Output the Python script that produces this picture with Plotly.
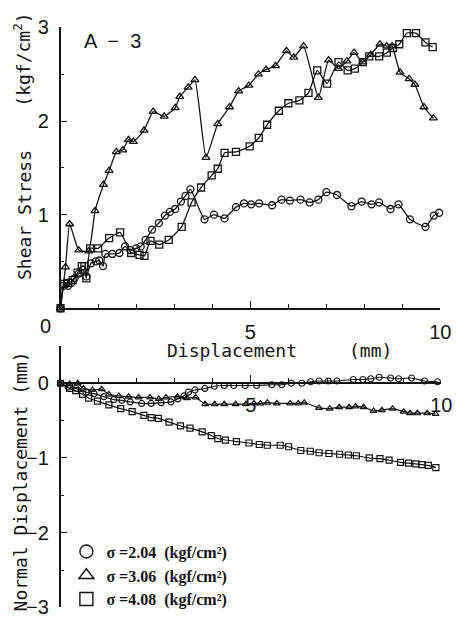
import plotly.graph_objects as go

W, H = 463, 630

# ---------------- data ----------------
# Shear stress (kgf/cm2) vs displacement (mm)
shear_c_x = [0, 0.07, 0.2, 0.28, 0.37, 0.48, 0.58, 0.68, 0.8, 0.93, 1.02, 1.12, 1.18, 1.36, 1.55, 1.70,
             1.84, 1.99, 2.11, 2.24, 2.41, 2.59, 2.75, 2.88, 3.02, 3.17, 3.29, 3.42, 3.79, 4.04, 4.32,
             4.62, 4.83, 5.02, 5.23, 5.57, 5.82, 6.04, 6.32, 6.56, 6.79, 7.0, 7.28, 7.66, 7.93, 8.19,
             8.39, 8.69, 8.90, 9.20, 9.61, 9.83, 9.97]
shear_c_y = [0, 0.24, 0.24, 0.27, 0.32, 0.37, 0.41, 0.34, 0.48, 0.50, 0.51, 0.45, 0.58, 0.58, 0.59, 0.66,
             0.62, 0.64, 0.66, 0.73, 0.84, 0.91, 0.99, 1.03, 1.06, 1.14, 1.20, 1.27, 0.95, 1.00, 0.96,
             1.08, 1.12, 1.11, 1.12, 1.10, 1.16, 1.15, 1.16, 1.13, 1.16, 1.24, 1.21, 1.09, 1.14, 1.11,
             1.13, 1.06, 1.11, 0.95, 0.87, 0.99, 1.02]

shear_t_x = [0, 0.13, 0.24, 0.48, 0.74, 0.91, 1.13, 1.28, 1.47, 1.64, 1.79, 1.92, 2.20, 2.44, 2.73,
             3.02, 3.14, 3.36, 3.54, 3.83, 4.14, 4.45, 4.69, 4.96, 5.21, 5.41, 5.66, 5.95, 6.14, 6.40,
             6.79, 7.06, 7.32, 7.54, 7.73, 7.96, 8.17, 8.41, 8.59, 8.73, 8.94, 9.18, 9.33, 9.57, 9.82]
shear_t_y = [0, 0.44, 0.90, 0.62, 0.61, 1.04, 1.32, 1.47, 1.67, 1.69, 1.80, 1.78, 1.90, 2.10, 2.05,
             2.14, 2.26, 2.36, 2.44, 1.61, 1.97, 2.15, 2.32, 2.38, 2.50, 2.55, 2.59, 2.75, 2.68, 2.80,
             2.25, 2.65, 2.56, 2.64, 2.73, 2.63, 2.71, 2.82, 2.80, 2.80, 2.52, 2.45, 2.39, 2.15, 2.03]

shear_s_x = [0, 0.1, 0.2, 0.32, 0.45, 0.56, 0.63, 0.68, 0.78, 0.99, 1.28, 1.57, 1.86, 2.08, 2.21, 2.37,
             2.60, 2.85, 3.19, 3.45, 3.70, 3.98, 4.14, 4.32, 4.62, 4.98, 5.22, 5.44, 5.75, 6.0, 6.29,
             6.53, 6.76, 7.02, 7.32, 7.56, 7.75, 7.96, 8.13, 8.39, 8.59, 8.75, 8.92, 9.12, 9.36, 9.61, 9.80]
shear_s_y = [0, 0.26, 0.27, 0.30, 0.38, 0.45, 0.45, 0.32, 0.64, 0.64, 0.75, 0.81, 0.59, 0.57, 0.56, 0.72,
             0.68, 0.73, 0.87, 1.13, 1.29, 1.42, 1.49, 1.66, 1.67, 1.73, 1.82, 1.96, 2.11, 2.19, 2.22,
             2.30, 2.54, 2.40, 2.63, 2.54, 2.56, 2.63, 2.69, 2.69, 2.73, 2.78, 2.82, 2.94, 2.94, 2.84, 2.79]

# Normal displacement (mm) vs displacement (mm)
norm_c_x = [0, 0.2, 0.41, 0.67, 0.88, 1.14, 1.40, 1.61, 1.83, 2.13, 2.38, 2.64, 2.90, 3.08, 3.24, 3.36,
            3.53, 3.79, 4.04, 4.30, 4.55, 4.85, 5.15, 5.55, 5.81, 6.06, 6.34, 6.57, 6.79, 7.03, 7.26,
            7.69, 7.94, 8.15, 8.37, 8.67, 8.88, 9.22, 9.56, 9.90]
norm_c_y = [0, -0.05, -0.07, -0.12, -0.14, -0.18, -0.22, -0.23, -0.25, -0.27, -0.27, -0.26, -0.25, -0.21,
            -0.17, -0.12, -0.09, -0.07, -0.04, -0.03, -0.03, -0.03, -0.03, -0.02, -0.02, 0.0, 0.0, 0.02,
            0.03, 0.03, 0.03, 0.05, 0.05, 0.06, 0.08, 0.07, 0.06, 0.07, 0.03, 0.02]

norm_t_x = [0, 0.24, 0.45, 0.6, 0.84, 1.08, 1.27, 1.53, 1.79, 2.05, 2.35, 2.58, 2.77, 3.07, 3.32, 3.55,
            3.80, 4.05, 4.30, 4.60, 4.87, 5.08, 5.25, 5.43, 5.68, 6.03, 6.24, 6.40, 6.79, 7.07, 7.32,
            7.58, 7.75, 7.96, 8.22, 8.44, 8.72, 9.01, 9.18, 9.37, 9.63, 9.85]
norm_t_y = [0, -0.01, 0.0, -0.07, -0.09, -0.08, -0.15, -0.17, -0.18, -0.19, -0.19, -0.21, -0.19, -0.18,
            -0.20, -0.19, -0.28, -0.28, -0.28, -0.28, -0.28, -0.27, -0.27, -0.26, -0.27, -0.27, -0.27,
            -0.26, -0.33, -0.34, -0.32, -0.32, -0.31, -0.32, -0.37, -0.36, -0.34, -0.38, -0.40, -0.40,
            -0.40, -0.41]

norm_s_x = [0, 0.24, 0.40, 0.58, 0.74, 0.97, 1.27, 1.58, 1.88, 2.19, 2.38, 2.57, 2.85, 3.15, 3.40, 3.72,
            3.96, 4.13, 4.33, 4.62, 4.95, 5.22, 5.43, 5.77, 5.99, 6.31, 6.56, 6.79, 7.05, 7.33, 7.56,
            7.77, 8.11, 8.39, 8.63, 8.93, 9.14, 9.33, 9.49, 9.66, 9.86]
norm_s_y = [0, -0.07, -0.10, -0.15, -0.20, -0.24, -0.29, -0.34, -0.38, -0.43, -0.46, -0.47, -0.52, -0.57,
            -0.60, -0.65, -0.70, -0.74, -0.76, -0.78, -0.80, -0.82, -0.83, -0.83, -0.85, -0.90, -0.91,
            -0.93, -0.94, -0.95, -0.96, -0.97, -1.00, -1.01, -1.03, -1.06, -1.07, -1.08, -1.09, -1.10,
            -1.13]

series_names = ["σ =2.04  (kgf/cm²)", "σ =3.06  (kgf/cm²)", "σ =4.08  (kgf/cm²)"]
symbols = ["circle-open", "triangle-up-open", "square-open"]

INK = "#141414"

fig = go.Figure()

shear = [(shear_c_x, shear_c_y), (shear_t_x, shear_t_y), (shear_s_x, shear_s_y)]
normal = [(norm_c_x, norm_c_y), (norm_t_x, norm_t_y), (norm_s_x, norm_s_y)]

for (xs, ys), sym in zip(shear, symbols):
    fig.add_trace(go.Scatter(x=xs, y=ys, mode="lines+markers", xaxis="x", yaxis="y",
                             line=dict(color=INK, width=1.3, shape="spline", smoothing=0.4),
                             marker=dict(symbol=sym, size=7, color=INK, line=dict(width=1.3, color=INK)),
                             showlegend=False, cliponaxis=False))
for (xs, ys), sym in zip(normal, symbols):
    fig.add_trace(go.Scatter(x=xs, y=ys, mode="lines+markers", xaxis="x2", yaxis="y2",
                             line=dict(color=INK, width=1.2, shape="spline", smoothing=0.4),
                             marker=dict(symbol=sym, size=6, color=INK, line=dict(width=1.2, color=INK)),
                             showlegend=False, cliponaxis=False))
# legend entries
for name, sym in zip(series_names, symbols):
    fig.add_trace(go.Scatter(x=[None], y=[None], mode="markers", name=name, xaxis="x2", yaxis="y2",
                             marker=dict(symbol=sym, size=13, color=INK, line=dict(width=1.4, color=INK))))

def px(x):
    return x / W

def py(y):
    return 1 - y / H

tickfont = dict(family="Liberation Sans, Arial, sans-serif", size=20, color=INK)
labfont = dict(family="DejaVu Sans Mono, monospace", size=18, color=INK)

top_y_dom = [py(308), py(17)]
bot_y_dom = [py(618), py(347)]
bot_range = [-3, 0.5]
zero_pos = bot_y_dom[0] + (0 - bot_range[0]) / (bot_range[1] - bot_range[0]) * (bot_y_dom[1] - bot_y_dom[0])

common_axis = dict(showgrid=False, zeroline=False, showline=True, linecolor=INK, linewidth=1.5,
                   ticks="inside", tickcolor=INK, tickwidth=1.3, tickfont=tickfont)

fig.update_layout(
    width=W, height=H, margin=dict(l=0, r=0, t=0, b=0),
    paper_bgcolor="white", plot_bgcolor="white",
    xaxis=dict(domain=[px(62), px(451)], range=[0, 10], anchor="y",
               tickvals=[5, 10], ticklen=7, ticklabelstandoff=5,
               minor=dict(dtick=1, tick0=0, ticks="inside", ticklen=4, tickcolor=INK), **common_axis),
    yaxis=dict(domain=top_y_dom, range=[0, 3], anchor="x",
               tickvals=[1, 2, 3], ticklen=7, ticklabelstandoff=6,
               minor=dict(dtick=0.5, tick0=0, ticks="inside", ticklen=4, tickcolor=INK), **common_axis),
    xaxis2=dict(domain=[px(62), px(452)], range=[0, 10], anchor="free", position=zero_pos,
                tickvals=[5, 10], ticklen=7, ticklabelstandoff=4,
                minor=dict(dtick=1, tick0=0, ticks="inside", ticklen=4, tickcolor=INK), **common_axis),
    yaxis2=dict(domain=bot_y_dom, range=bot_range, anchor="x2",
                tickvals=[0, -1, -2, -3], ticklen=7, ticklabelstandoff=6,
                minor=dict(dtick=0.5, tick0=0, ticks="inside", ticklen=4, tickcolor=INK), **common_axis),
    legend=dict(x=px(68), y=py(585), xanchor="left", yanchor="middle", bgcolor="rgba(0,0,0,0)",
                font=dict(family="Liberation Serif, DejaVu Serif, serif", size=16, color=INK, weight="bold"),
                tracegroupgap=0),
    showlegend=True,
)

ann = [
    dict(text="A  −  3", x=px(115), y=py(31), font=dict(family="Liberation Sans, Arial, sans-serif", size=20, color=INK)),
    dict(text="0", x=px(47), y=py(326), font=tickfont),
    dict(text="Displacement", x=px(238), y=py(352), font=labfont),
    dict(text="(mm)", x=px(380), y=py(352), font=labfont),
    dict(text="Shear Stress", x=px(25), y=py(211), font=labfont, textangle=-90),
    dict(text="(kgf/cm<sup>2</sup>)", x=px(23), y=py(50), font=labfont, textangle=-90),
    dict(text="Normal Displacement (mm)", x=px(21), y=py(488), font=labfont, textangle=-90),
]
for a in ann:
    fig.add_annotation(xref="paper", yref="paper", showarrow=False, xanchor="center", yanchor="middle", **a)

fig.write_html("out.html", config={"displayModeBar": False},
               post_script="document.body.style.margin='0';document.body.style.overflow='hidden';")
